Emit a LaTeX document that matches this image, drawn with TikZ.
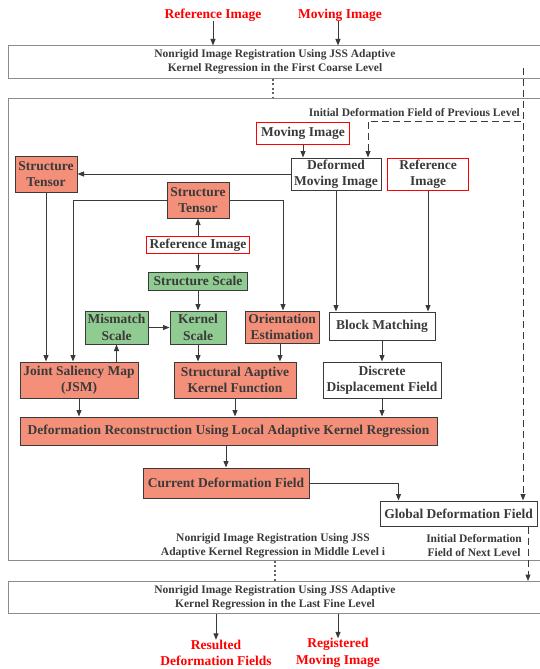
\documentclass[tikz,border=0pt]{standalone}
\usepackage{fontspec}
\setmainfont{Liberation Serif}
\usetikzlibrary{arrows.meta, positioning}
\definecolor{ink}{HTML}{3A3A3A}
\definecolor{salmon}{HTML}{F4907A}
\definecolor{mint}{HTML}{90CC92}
\definecolor{framegray}{HTML}{8C8C8C}
\definecolor{alert}{HTML}{FF0000}
\newcommand{\bxfont}{\fontsize{13.5}{16.5}\selectfont\bfseries}
\newcommand{\smfont}{\fontsize{11.5}{14}\selectfont\bfseries}

\begin{document}
\begin{tikzpicture}[
        x=1pt, y=-1pt,
        blk/.style={rectangle, draw=ink, line width=1pt, text=ink,
                    font=\bxfont, align=center, inner sep=1pt},
        org/.style={blk, fill=salmon},
        grn/.style={blk, fill=mint},
        wht/.style={blk, fill=white},
        src/.style={blk, draw=alert, fill=white},
        lvl/.style={rectangle, draw=framegray, line width=1pt, text=ink,
                    font=\smfont, align=center, minimum width=534pt},
        note/.style={text=ink, font=\smfont, align=center, inner sep=0pt},
        io/.style={text=alert, font=\bxfont, align=center, inner sep=0pt},
        arr/.style={draw=ink, line width=1pt, -{Triangle[length=6.5pt, width=5pt]}},
        dsh/.style={arr, dash pattern=on 7pt off 4pt},
        dots/.style={draw=ink!80, line width=2.2pt, dash pattern=on 2pt off 2.5pt},
      ]
        \useasboundingbox (0,0) rectangle (539,669);

        \node[io] (ri) at (213,15) {Reference Image};
        \node[io] (mi) at (340,15) {Moving Image};
        \node[lvl, minimum height=32pt] (l1) at (275,62) {Nonrigid Image Registration Using JSS Adaptive\\Kernel Regression in the First Coarse Level};
        \node[lvl, minimum height=462pt] (l2) at (275,329) {};
        \node[lvl, minimum height=32pt] (l3) at (275,597.5) {Nonrigid Image Registration Using JSS Adaptive\\Kernel Regression in the Last Fine Level};
        \node[io] (rd) at (216,653) {Resulted\\Deformation Fields};
        \node[io] (rm) at (338,653) {Registered\\Moving Image};

        \node[note, anchor=east] (prev) at (520,113) {Initial Deformation Field of Previous Level};
        \node[src, minimum width=93pt, minimum height=22pt] (mv) at (303,133) {Moving Image};
        \node[wht, minimum width=90pt, minimum height=32pt] (dm) at (336,174) {Deformed\\Moving Image};
        \node[src, minimum width=81pt, minimum height=32pt] (rr) at (428,174) {Reference\\Image};
        \node[org, minimum width=62pt, minimum height=36pt] (tl) at (46,174) {Structure\\Tensor};
        \node[org, minimum width=62pt, minimum height=36pt] (tc) at (198,200) {Structure\\Tensor};
        \node[src, minimum width=103pt, minimum height=17pt] (rc) at (198,245) {Reference Image};
        \node[grn, minimum width=99pt, minimum height=18pt] (ss) at (198,281) {Structure Scale};
        \node[grn, minimum width=56pt, minimum height=33pt] (ks) at (198,327.5) {Kernel\\Scale};
        \node[grn, minimum width=63pt, minimum height=33pt] (ms) at (116.5,327.5) {Mismatch\\Scale};
        \node[org, minimum width=74pt, minimum height=32pt] (oe) at (282,327) {Orientation\\Estimation};
        \node[org, minimum width=118pt, minimum height=36pt] (jsm) at (79,380) {Joint Saliency Map\\(JSM)};
        \node[org, minimum width=122pt, minimum height=36pt] (sk) at (235,380) {Structural Aaptive\\Kernel Function};
        \node[wht, minimum width=106pt, minimum height=28pt] (bm) at (382,326) {Block Matching};
        \node[wht, minimum width=118pt, minimum height=36pt] (dd) at (382,380) {Discrete\\Displacement Field};
        \node[org, minimum width=417pt, minimum height=28pt] (rec) at (228.5,431) {Deformation Reconstruction Using Local Adaptive Kernel Regression};
        \node[org, minimum width=166pt, minimum height=30pt] (cf) at (226,483) {Current Deformation Field};
        \node[wht, minimum width=157pt, minimum height=25pt] (gd) at (458.5,513.5) {Global Deformation Field};
        \node[note] (midl) at (273,546) {Nonrigid Image Registration Using JSS\\Adaptive Kernel Regression in Middle Level i};
        \node[note] (nextl) at (474,546) {Initial Deformation\\Field of Next Level};
        \coordinate (dtop) at (523,68);
        \coordinate (dprev) at (521,121);

        \draw[arr] (ri.south) -- (ri.south |- l1.north);
        \draw[arr] ([xshift=-2pt]mi.south) -- ([xshift=-2pt]mi.south |- l1.north);
        \draw[dots] ([xshift=-2pt]l1.south) -- ([xshift=-2pt]l2.north);
        \draw[dots] (l2.south) -- (l3.north);
        \draw[arr] (rd.north |- l3.south) -- (rd.north);
        \draw[arr] (rm.north |- l3.south) -- (rm.north);

        \draw[dsh] (dtop) -- (dtop |- gd.north);
        \draw[dsh] (dprev) -| ([xshift=32pt]dm.north);
        \draw[dsh] ([xshift=69.5pt]gd.south) -- ([xshift=69.5pt]gd.south |- l3.north);

        \draw[arr] (mv.south) -- (mv.south |- dm.north);
        \draw[arr] (dm.west) -- (tl.east);
        \draw[arr] (tl.south) -- (tl.south |- jsm.north);
        \draw[arr] (tc.west) -| ([xshift=-6pt]jsm.north);
        \draw[arr] (tc.east) -| ([xshift=1pt]oe.north);
        \draw[arr] (rc) -- (tc);
        \draw[arr] (rc) -- (ss);
        \draw[arr] (ss) -- (ks);
        \draw[arr] (ms) -- (ks);
        \draw[arr] (jsm.north -| ms.south) -- (ms.south);
        \draw[arr] (ks.south) -- (ks.south |- sk.north);
        \draw[arr] ([xshift=-2pt]oe.south) -- ([xshift=-2pt]oe.south |- sk.north);
        \draw[arr] (dm.south) -- (dm.south |- bm.north);
        \draw[arr] (rr.south) -- (rr.south |- bm.north);
        \draw[arr] (bm) -- (dd);
        \draw[arr] (jsm.south) -- (jsm.south |- rec.north);
        \draw[arr] (sk.south) -- (sk.south |- rec.north);
        \draw[arr] (dd.south) -- (dd.south |- rec.north);
        \draw[arr] (rec.south -| cf.north) -- (cf.north);
        \draw[arr] (cf.east) -| ([xshift=-60pt]gd.north);
      \end{tikzpicture}
\end{document}
